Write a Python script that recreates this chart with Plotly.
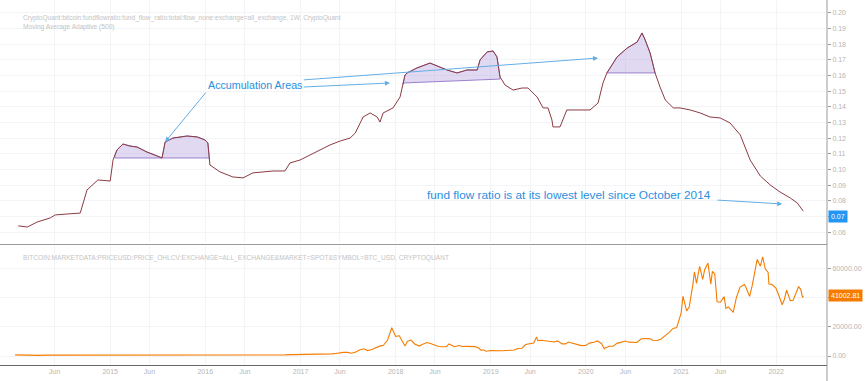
import plotly.graph_objects as go
import numpy as np
import pandas as pd

# ---------------- data ----------------
ffr_dates = ["2014-01-13","2014-02-17","2014-03-27","2014-05-16","2014-06-04","2014-07-12","2014-09-08",
             "2014-10-04","2014-10-27","2014-11-15","2015-01-01","2015-01-12","2015-01-27","2015-02-19",
             "2015-03-18","2015-04-14","2015-05-22","2015-06-22","2015-07-19","2015-07-31","2015-08-30",
             "2015-10-23","2015-12-01","2015-12-31","2016-01-11","2016-01-19","2016-02-27","2016-04-16",
             "2016-05-25","2016-07-02","2016-09-17","2016-11-02","2016-11-21","2016-12-30","2017-02-07",
             "2017-03-17","2017-04-24","2017-06-02","2017-07-10","2017-07-30","2017-08-29","2017-09-25",
             "2017-10-22","2017-11-02","2017-11-14","2017-12-22","2018-01-18","2018-02-06","2018-02-14",
             "2018-03-24","2018-05-13","2018-07-17","2018-08-25","2018-10-02","2018-11-10","2018-11-21",
             "2018-12-18","2019-01-10","2019-01-25","2019-02-06","2019-02-25","2019-03-28","2019-05-01",
             "2019-05-24","2019-06-28","2019-07-21","2019-08-09","2019-08-24","2019-08-28","2019-09-24",
             "2019-10-05","2019-10-20","2019-12-09","2020-01-17","2020-02-17","2020-03-07","2020-03-22",
             "2020-04-30","2020-06-08","2020-07-16","2020-08-04","2020-08-16","2020-09-04","2020-09-23",
             "2020-10-12","2020-11-01","2020-12-02","2020-12-28","2021-02-05","2021-03-15","2021-04-22",
             "2021-05-31","2021-07-08","2021-08-16","2021-09-23","2021-11-01","2021-12-09","2022-01-16",
             "2022-02-24","2022-03-23","2022-04-15"]
ffr_values = [0.0641,0.0634,0.0666,0.0692,0.0711,0.0717,0.0723,
              0.0870,0.0902,0.0934,0.0927,0.1061,0.1125,0.1163,
              0.1150,0.1144,0.1112,0.1093,0.1074,0.1176,0.1201,
              0.1214,0.1208,0.1189,0.1170,0.1029,0.0985,0.0953,
              0.0947,0.0979,0.0991,0.0991,0.1042,0.1061,0.1093,
              0.1125,0.1157,0.1182,0.1201,0.1233,0.1335,0.1361,
              0.1335,0.1303,0.1361,0.1393,0.1463,0.1603,0.1616,
              0.1648,0.1679,0.1635,0.1616,0.1635,0.1635,0.1699,
              0.1750,0.1756,0.1718,0.1590,0.1539,0.1507,0.1520,
              0.1520,0.1463,0.1393,0.1393,0.1316,0.1272,0.1272,
              0.1316,0.1380,0.1380,0.1380,0.1424,0.1552,0.1616,
              0.1718,0.1775,0.1813,0.1871,0.1826,0.1743,0.1616,
              0.1526,0.1444,0.1393,0.1393,0.1380,0.1361,0.1335,
              0.1329,0.1297,0.1221,0.1061,0.0959,0.0902,0.0857,
              0.0819,0.0787,0.0735]

price_dates = ["2014-01-01","2014-02-01","2014-03-01","2014-04-01","2014-05-01","2014-06-01","2014-07-01",
               "2014-08-01","2014-09-01","2014-10-01","2014-11-01","2014-12-01",
               "2015-01-01","2015-02-01","2015-03-01","2015-04-01","2015-05-01","2015-06-01","2015-07-01",
               "2015-08-01","2015-09-01","2015-10-01","2015-11-01","2015-12-01",
               "2016-01-01","2016-02-01","2016-03-01","2016-04-01","2016-05-01","2016-06-01","2016-07-01",
               "2016-08-01","2016-09-01","2016-10-01","2016-11-01","2016-12-01",
               "2017-01-01","2017-01-15","2017-02-01","2017-02-15","2017-03-01","2017-03-15","2017-04-01",
               "2017-04-15","2017-05-01","2017-05-15","2017-06-01","2017-06-15","2017-07-01","2017-07-15",
               "2017-08-01","2017-08-15","2017-09-01","2017-09-15","2017-10-01","2017-10-15","2017-11-01",
               "2017-11-15","2017-12-01","2017-12-17",
               "2018-01-01","2018-01-15","2018-02-01","2018-02-06","2018-02-15","2018-03-01","2018-03-15",
               "2018-04-01","2018-04-15","2018-05-01","2018-05-15","2018-06-01","2018-06-15","2018-07-01",
               "2018-07-15","2018-07-25","2018-08-01","2018-08-15","2018-09-01","2018-09-15","2018-10-01",
               "2018-10-15","2018-11-01","2018-11-15","2018-11-25","2018-12-01","2018-12-15",
               "2019-01-01","2019-01-15","2019-02-01","2019-02-15","2019-03-01","2019-03-15","2019-04-01",
               "2019-04-15","2019-05-01","2019-05-15","2019-06-01","2019-06-15","2019-06-26","2019-07-01",
               "2019-07-15","2019-08-01","2019-08-15","2019-09-01","2019-09-15","2019-10-01","2019-10-15",
               "2019-10-26","2019-11-01","2019-11-15","2019-12-01","2019-12-15",
               "2020-01-01","2020-01-15","2020-02-01","2020-02-15","2020-03-01","2020-03-12","2020-03-15",
               "2020-04-01","2020-04-15","2020-05-01","2020-05-15","2020-06-01","2020-06-15","2020-07-01",
               "2020-07-15","2020-08-01","2020-08-15","2020-09-01","2020-09-15","2020-10-01","2020-10-15",
               "2020-11-01","2020-11-15","2020-12-01","2020-12-15",
               "2021-01-01","2021-01-08","2021-01-22","2021-02-01","2021-02-15","2021-02-21","2021-03-01",
               "2021-03-13","2021-03-25","2021-04-01","2021-04-14","2021-04-25","2021-05-01","2021-05-10",
               "2021-05-19","2021-06-01","2021-06-15","2021-06-22","2021-07-01","2021-07-20","2021-08-01",
               "2021-08-15","2021-09-01","2021-09-07","2021-09-21","2021-10-01","2021-10-20","2021-11-01",
               "2021-11-10","2021-11-20","2021-12-01","2021-12-04","2021-12-15","2021-12-31",
               "2022-01-10","2022-01-24","2022-02-01","2022-02-10","2022-02-24","2022-03-07","2022-03-28",
               "2022-04-05","2022-04-12","2022-04-15"]
price_values = [800,570,460,445,630,640,585,480,390,340,380,320,
                220,255,245,235,230,265,285,230,235,315,375,430,
                370,435,415,450,530,670,625,575,610,700,745,960,
                1000,820,970,1010,1190,1250,1080,1180,1420,1730,2400,2450,2480,1930,
                2720,4170,4920,3680,4400,5650,6740,7300,10900,19300,
                13400,13800,9100,6900,10000,10900,8200,6800,8000,9200,8500,7500,6500,6350,
                6350,8200,7600,6300,7200,6500,6600,6500,6380,5600,3800,4200,3250,
                3800,3600,3450,3600,3800,3900,4100,5100,5300,7800,8550,8800,12900,10500,
                10800,10400,10300,9600,10300,8300,8300,9550,9150,8500,7400,7100,
                7200,8800,9350,10300,8550,4900,5400,6650,6650,8800,9300,10200,9450,9200,
                9200,11800,11900,11900,10800,10600,11500,13750,16000,18800,19400,
                29400,40800,30800,33500,48700,57500,49600,61200,52300,58700,63500,49100,57800,56000,
                37000,36700,40500,32500,33500,29800,39800,47000,48800,46800,40700,48200,65900,61300,
                67600,59500,57000,49200,48900,46300,
                41800,35000,38500,45000,37800,38100,47400,45500,40000,41002.81]

# accumulation zones (start, end, base at start, base at end)
zone_starts = ["2015-01-19", "2015-07-19", "2018-01-29", "2020-03-22"]
zone_ends = ["2015-07-19", "2016-01-17", "2019-02-06", "2020-09-23"]
zone_base_start = [0.1074, 0.1074, 0.1552, 0.1616]
zone_base_end = [0.1074, 0.1074, 0.1577, 0.1616]

tick_dates = ["2014-06-01","2015-01-01","2015-06-01","2016-01-01","2016-06-01","2017-01-01","2017-06-01",
              "2018-01-01","2018-06-01","2019-01-01","2019-06-01","2020-01-01","2020-06-01","2021-01-01",
              "2021-06-01","2022-01-01"]
tick_labels = ["Jun","2015","Jun","2016","Jun","2017","Jun","2018","Jun","2019","Jun","2020","Jun","2021",
               "Jun","2022"]

ffr_ticks = [0.06,0.07,0.08,0.09,0.10,0.11,0.12,0.13,0.14,0.15,0.16,0.17,0.18,0.19,0.20]
price_ticks = [0, 20000, 40000, 60000]
price_tick_labels = ["0.00", "20000.00", "", "60000.00"]

# ---------------- figure ----------------
W, H = 868, 381
ML, MR, MT, MB = 0, 41, 0, 16
plot_h = H - MT - MB
top_dom = [1 - 243 / plot_h, 1]
bot_dom = [0, 1 - 246 / plot_h]

LINE_COLOR = "#8c3b42"
ORANGE = "#f57c00"
BLUE_TXT = "#2a8fe0"
ARROW = "#63aee6"
GRID = "#f2f4f8"
TICKC = "#b5b5b5"
FONT = "Liberation Sans"

fig = go.Figure()

ffr_num = np.asarray(pd.to_datetime(ffr_dates).asi8, dtype=float)
ffr_arr = np.array(ffr_values)

for s, e, b0, b1 in zip(zone_starts, zone_ends, zone_base_start, zone_base_end):
    sn = float(pd.Timestamp(s).value)
    en = float(pd.Timestamp(e).value)
    mask = (ffr_num > sn) & (ffr_num < en)
    xs = [sn] + list(ffr_num[mask]) + [en]
    ys = [np.interp(sn, ffr_num, ffr_arr)] + list(ffr_arr[mask]) + [np.interp(en, ffr_num, ffr_arr)]
    xs = xs + [en, sn, sn]
    ys = ys + [b1, b0, ys[0]]
    fig.add_trace(go.Scatter(
        x=pd.to_datetime(np.array(xs, dtype="int64")), y=ys, mode="lines",
        fill="toself", fillcolor="rgba(170,145,215,0.35)",
        line=dict(color="#9c7fcf", width=1), hoverinfo="skip", showlegend=False,
        xaxis="x", yaxis="y"))

fig.add_trace(go.Scatter(x=ffr_dates, y=ffr_values, mode="lines",
                         line=dict(color=LINE_COLOR, width=1), showlegend=False,
                         xaxis="x", yaxis="y"))
fig.add_trace(go.Scatter(x=price_dates, y=price_values, mode="lines",
                         line=dict(color=ORANGE, width=1.1), showlegend=False,
                         xaxis="x2", yaxis="y2"))

xrange = ["2013-11-04", "2022-07-15"]
common_x = dict(range=xrange, showgrid=True, gridcolor=GRID, gridwidth=1,
                tickvals=tick_dates, ticktext=tick_labels, zeroline=False)

fig.update_layout(
    width=W, height=H, margin=dict(l=ML, r=MR, t=MT, b=MB),
    paper_bgcolor="white", plot_bgcolor="white",
    font=dict(family=FONT, size=7, color=TICKC),
    xaxis=dict(**common_x, domain=[0, 1], anchor="y", showticklabels=False, ticks=""),
    xaxis2=dict(**common_x, domain=[0, 1], anchor="y2", matches="x", showticklabels=True,
                ticks="", showline=True, linecolor="#666", linewidth=1,
                tickfont=dict(size=7, color=TICKC, family=FONT)),
    yaxis=dict(domain=top_dom, side="right", range=[0.0532, 0.2081], tickvals=ffr_ticks,
               ticktext=["%.2f" % t for t in ffr_ticks], showgrid=True, gridcolor=GRID,
               zeroline=False, ticks="outside", ticklen=3, tickcolor="#999",
               showline=False, tickfont=dict(size=7, color=TICKC, family=FONT), anchor="x"),
    yaxis2=dict(domain=bot_dom, side="right", range=[-6140, 75090], tickvals=price_ticks,
                ticktext=price_tick_labels, showgrid=True, gridcolor=GRID, zeroline=False,
                ticks="outside", ticklen=3, tickcolor="#999",
                tickfont=dict(size=7, color=TICKC, family=FONT), anchor="x2"),
)

# right axis line, pane separator
fig.add_shape(type="line", xref="paper", yref="paper", x0=1, x1=1, y0=-MB / plot_h, y1=1,
              line=dict(color="#999", width=1))
sep_y = 1 - 244.5 / plot_h
fig.add_shape(type="line", xref="paper", yref="paper", x0=0, x1=1, y0=sep_y, y1=sep_y,
              line=dict(color="#999", width=1))

# pane titles
title_font = dict(family=FONT, size=6.6, color="#c4c4c4")
fig.add_annotation(xref="paper", yref="paper", x=0, y=1, xanchor="left", yanchor="top",
                   xshift=21, yshift=-12, showarrow=False, font=title_font, align="left",
                   text="CryptoQuant:bitcoin:fundflowratio:fund_flow_ratio:total:flow_none:exchange=all_exchange, 1W, CryptoQuant<br>Moving Average Adaptive (500)")
fig.add_annotation(xref="paper", yref="paper", x=0, y=bot_dom[1], xanchor="left", yanchor="top",
                   xshift=21, yshift=-6, showarrow=False, font=title_font,
                   text="BITCOIN:MARKETDATA:PRICEUSD:PRICE_OHLCV:EXCHANGE=ALL_EXCHANGE&MARKET=SPOT&SYMBOL=BTC_USD, CRYPTOQUANT")

# last value labels
fig.add_annotation(xref="paper", yref="y", x=1, y=0.07, xanchor="left", yanchor="middle",
                   xshift=1, showarrow=False, text="0.07", bgcolor="#2196f3",
                   font=dict(family=FONT, size=7, color="white"), borderpad=2)
fig.add_annotation(xref="paper", yref="y2", x=1, y=price_values[-1], xanchor="left", yanchor="middle",
                   xshift=1, showarrow=False, text="%.2f" % price_values[-1], bgcolor=ORANGE,
                   font=dict(family=FONT, size=7, color="white"), borderpad=2)

# text annotations
fig.add_annotation(xref="x", yref="y", x="2016-07-10", y=0.1539, text="Accumulation Areas",
                   showarrow=False, font=dict(family=FONT, size=10.7, color=BLUE_TXT))
fig.add_annotation(xref="x", yref="y", x="2019-10-28", y=0.0838,
                   text="fund flow ratio is at its lowest level since October 2014",
                   showarrow=False, font=dict(family=FONT, size=11.8, color=BLUE_TXT))

arrows = [
    ("2015-07-31", 0.1176, "2016-01-08", 0.1501),
    ("2017-12-10", 0.1552, "2017-01-07", 0.1526),
    ("2020-02-17", 0.1711, "2017-01-07", 0.1571),
    ("2022-01-24", 0.0781, "2021-05-15", 0.0806),
]
for hx, hy, tx, ty in arrows:
    fig.add_annotation(xref="x", yref="y", axref="x", ayref="y", x=hx, y=hy, ax=tx, ay=ty,
                       text="", showarrow=True, arrowhead=2, arrowsize=1, arrowwidth=1,
                       arrowcolor=ARROW)

fig.write_html("out.html", config={"displayModeBar": False},
               post_script="document.body.style.margin='0';document.body.style.overflow='hidden';")
